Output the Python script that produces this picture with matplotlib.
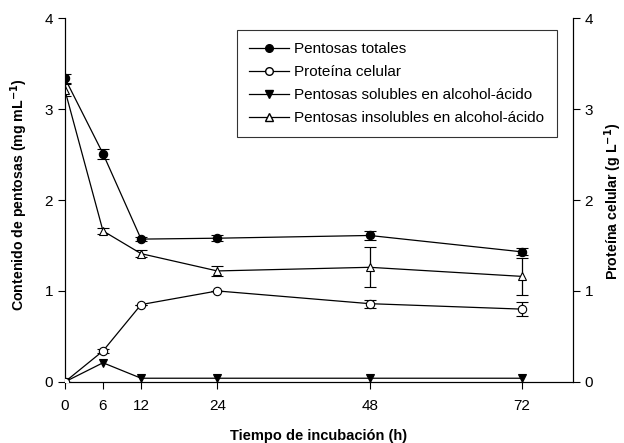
import matplotlib
matplotlib.use("Agg")
import matplotlib.pyplot as plt
from matplotlib.lines import Line2D

plt.rcParams['font.family'] = ['Liberation Sans', 'DejaVu Sans']

tiempo = [0, 6, 12, 24, 48, 72]

# pentosas (mg/mL)
totales = [3.34, 2.51, 1.57, 1.58, 1.61, 1.43]
totales_err = [0.05, 0.055, 0.02, 0.03, 0.045, 0.04]
solubles = [0.0, 0.21, 0.04, 0.04, 0.04, 0.04]
insolubles = [3.21, 1.66, 1.41, 1.22, 1.26, 1.16]
insolubles_err = [0.07, 0.03, 0.035, 0.055, 0.22, 0.2]

# proteina (g/L)
proteina = [0.0, 0.34, 0.85, 1.00, 0.86, 0.80]
proteina_err = [0.0, 0.02, 0.0, 0.0, 0.045, 0.075]

xticks = [0, 6, 12, 24, 48, 72]

fig = plt.figure(figsize=(6.24, 4.43), dpi=100)
ax = fig.add_axes([0.104, 0.138, 0.814, 0.821])
ax2 = ax.twinx()

lw = 0.9
st = dict(color='black', lw=lw, ms=6, capsize=4, elinewidth=lw, capthick=lw, mec='black', mew=0.8)

ax.errorbar(tiempo, totales, yerr=totales_err, marker='o', mfc='black', zorder=4, **st)
ax2.errorbar(tiempo, proteina, yerr=proteina_err, marker='o', mfc='white', zorder=4, **st)
ax.errorbar(tiempo, solubles, marker='v', mfc='black', zorder=4, **st)
ax.errorbar(tiempo, insolubles, yerr=insolubles_err, marker='^', mfc='white', zorder=4, **st)

for a in (ax, ax2):
    a.set_ylim(0, 4)
    a.set_yticks([0, 1, 2, 3, 4])
    a.tick_params(direction='out', labelsize=11, length=5, width=0.8)
    for s in a.spines.values():
        s.set_linewidth(0.8)
ax.set_xlim(0, 80)
ax.set_xticks(xticks)
ax.tick_params(axis='x', pad=7)
ax.spines['top'].set_visible(False)
ax2.spines['top'].set_visible(False)

ax.set_xlabel('Tiempo de incubación (h)', fontsize=10.5, fontweight='bold', labelpad=12)
fig.text(19 / 624, 1 - 195 / 443, 'Contenido de pentosas (mg mL$^{\\mathbf{-1}}$)', rotation=90,
         ha='center', va='center', fontsize=10.2, fontweight='bold')
fig.text(613 / 624, 1 - 201 / 443, 'Proteína celular (g L$^{\\mathbf{-1}}$)', rotation=90,
         ha='center', va='center', fontsize=10.2, fontweight='bold')

labels = ['Pentosas totales', 'Proteína celular',
          'Pentosas solubles en alcohol-ácido', 'Pentosas insolubles en alcohol-ácido']
hs = [Line2D([], [], color='black', lw=lw, marker='o', mfc='black', mec='black', ms=5.5),
      Line2D([], [], color='black', lw=lw, marker='o', mfc='white', mec='black', ms=5.5),
      Line2D([], [], color='black', lw=lw, marker='v', mfc='black', mec='black', ms=5.5),
      Line2D([], [], color='black', lw=lw, marker='^', mfc='white', mec='black', ms=5.5)]
leg = fig.legend(hs, labels, loc='upper left', bbox_to_anchor=(0.38, 0.932), borderaxespad=0,
                 fontsize=11, frameon=True, fancybox=False, edgecolor='black',
                 handlelength=2.6, handletextpad=0.35, borderpad=0.8, labelspacing=0.58)
leg.get_frame().set_linewidth(0.8)

fig.savefig('out.png', dpi=100)
